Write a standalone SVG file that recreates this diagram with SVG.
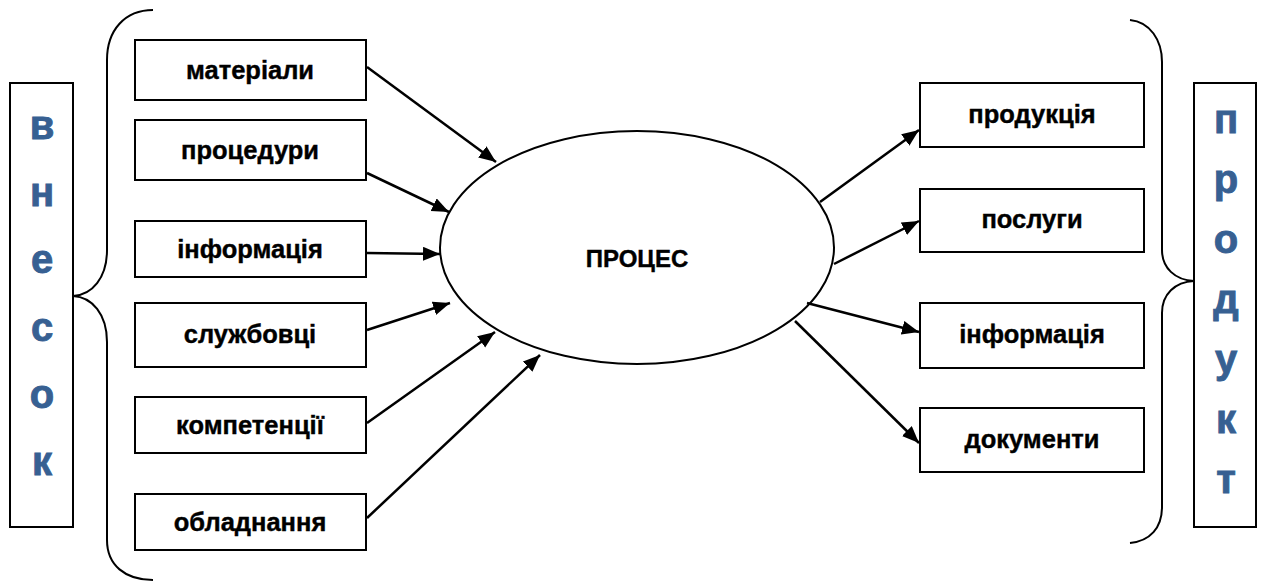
<svg xmlns="http://www.w3.org/2000/svg" width="1264" height="583" viewBox="0 0 1264 583">
  <defs>
    <style>
      .box { fill: #ffffff; stroke: #000000; stroke-width: 2; }
      .label { font-family: "Liberation Sans", Arial, sans-serif; font-weight: bold; font-size: 25.5px; fill: #000000; stroke: #000000; stroke-width: 0.4; text-anchor: middle; }
      .title { font-family: "Liberation Sans", Arial, sans-serif; font-weight: bold; font-size: 24px; fill: #000000; stroke: #000000; stroke-width: 0.4; text-anchor: middle; }
      .side { font-family: "Liberation Sans", Arial, sans-serif; font-weight: bold; font-size: 40px; fill: #376092; stroke: #376092; stroke-width: 0.9; text-anchor: middle; }
      .brace { fill: none; stroke: #000000; stroke-width: 2; }
      .conn { fill: none; stroke: #000000; stroke-width: 2.5; marker-end: url(#arrow); }
    </style>
    <marker id="arrow" markerUnits="userSpaceOnUse" markerWidth="18" markerHeight="16" refX="17" refY="7" orient="auto">
      <path d="M0,0 L17,7 L0,14 Z" fill="#000000"/>
    </marker>
  </defs>

  <rect width="1264" height="583" fill="#ffffff"/>

  <!-- input side: vertical caption and brace -->
  <g id="input-caption">
    <rect class="box" x="10" y="83" width="63" height="444"/>
    <text class="side" x="42" y="139">в</text>
    <text class="side" x="42" y="206">н</text>
    <text class="side" x="42" y="273">е</text>
    <text class="side" x="42" y="341">с</text>
    <text class="side" x="42" y="408">о</text>
    <text class="side" x="42" y="475">к</text>
  </g>
  <path id="input-brace" class="brace" d="M153,10 C125,10 107,30 107,60 L107,250 C107,278 92,295 73,296 C92,297 107,314 107,342 L107,540 C107,565 125,580 153,580"/>

  <!-- inputs -->
  <g id="in-materials">
    <rect class="box" x="135" y="40" width="231" height="60"/>
    <text class="label" x="250" y="79">матеріали</text>
  </g>
  <g id="in-procedures">
    <rect class="box" x="135" y="120" width="231" height="60"/>
    <text class="label" x="250" y="159">процедури</text>
  </g>
  <g id="in-information">
    <rect class="box" x="135" y="221" width="231" height="56"/>
    <text class="label" x="250" y="258">інформація</text>
  </g>
  <g id="in-staff">
    <rect class="box" x="135" y="303" width="231" height="64"/>
    <text class="label" x="250" y="343">службовці</text>
  </g>
  <g id="in-competences">
    <rect class="box" x="135" y="397" width="231" height="56"/>
    <text class="label" x="250" y="434">компетенції</text>
  </g>
  <g id="in-equipment">
    <rect class="box" x="135" y="494" width="231" height="56"/>
    <text class="label" x="250" y="531">обладнання</text>
  </g>

  <!-- central process -->
  <g id="process">
    <ellipse cx="637" cy="247.5" rx="197" ry="116.5" fill="#ffffff" stroke="#000000" stroke-width="2"/>
    <text class="title" x="637" y="267">ПРОЦЕС</text>
  </g>

  <!-- outputs -->
  <g id="out-products">
    <rect class="box" x="920" y="83" width="224" height="64"/>
    <text class="label" x="1032" y="123">продукція</text>
  </g>
  <g id="out-services">
    <rect class="box" x="920" y="189" width="224" height="63"/>
    <text class="label" x="1032" y="228">послуги</text>
  </g>
  <g id="out-information">
    <rect class="box" x="920" y="303" width="224" height="65"/>
    <text class="label" x="1032" y="343">інформація</text>
  </g>
  <g id="out-documents">
    <rect class="box" x="920" y="408" width="224" height="64"/>
    <text class="label" x="1032" y="448">документи</text>
  </g>

  <!-- output side: brace and vertical caption -->
  <path id="output-brace" class="brace" d="M1130,20 C1150,22 1162,40 1162,62 L1162,250 C1162,268 1175,280 1194,281 C1175,282 1162,294 1162,313 L1162,507 C1162,528 1150,541 1130,543"/>
  <g id="output-caption">
    <rect class="box" x="1194" y="83" width="62" height="444"/>
    <text class="side" x="1226" y="133">п</text>
    <text class="side" x="1226" y="193">р</text>
    <text class="side" x="1226" y="253">о</text>
    <text class="side" x="1226" y="313">д</text>
    <text class="side" x="1226" y="373">у</text>
    <text class="side" x="1226" y="433">к</text>
    <text class="side" x="1226" y="493">т</text>
  </g>

  <!-- connectors -->
  <g id="connectors">
    <line class="conn" x1="367" y1="67" x2="496" y2="162"/>
    <line class="conn" x1="367" y1="173" x2="449" y2="212"/>
    <line class="conn" x1="367" y1="253" x2="440" y2="254"/>
    <line class="conn" x1="367" y1="330" x2="450" y2="303"/>
    <line class="conn" x1="367" y1="423" x2="495" y2="332"/>
    <line class="conn" x1="367" y1="518" x2="540" y2="355"/>
    <line class="conn" x1="820" y1="202" x2="919" y2="130"/>
    <line class="conn" x1="834" y1="264" x2="919" y2="221"/>
    <line class="conn" x1="807" y1="303" x2="919" y2="332"/>
    <line class="conn" x1="795" y1="321" x2="919" y2="443"/>
  </g>
</svg>
